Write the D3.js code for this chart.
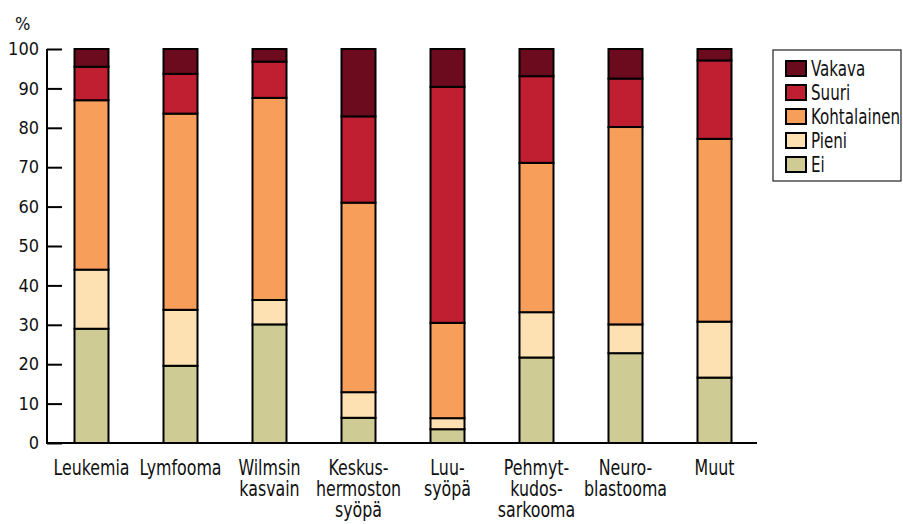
<!DOCTYPE html>
<html>
<head>
<meta charset="utf-8">
<script src="https://cdn.jsdelivr.net/npm/d3@7"></script>
<style>
  html, body { margin: 0; padding: 0; background: #fff; }
  svg { display: block; font-family: "DejaVu Sans Condensed", "DejaVu Sans", sans-serif; font-stretch: condensed; }
</style>
</head>
<body>
<svg id="chart" width="903" height="524"></svg>
<script>
// Cancer types (multi-line labels split on "\n")
const categories = [
  "Leukemia", "Lymfooma", "Wilmsin\nkasvain", "Keskus-\nhermoston\nsyöpä",
  "Luu-\nsyöpä", "Pehmyt-\nkudos-\nsarkooma", "Neuro-\nblastooma", "Muut"
];
// Severity levels, bottom to top
const seriesNames = ["Ei", "Pieni", "Kohtalainen", "Suuri", "Vakava"];
const ei          = [29.0, 19.6, 30.1,  6.4,  3.5, 21.7, 22.8, 16.6];
const pieni       = [15.0, 14.2,  6.2,  6.5,  2.8, 11.5,  7.3, 14.2];
const kohtalainen = [43.0, 49.8, 51.3, 48.1, 24.2, 37.9, 50.1, 46.4];
const suuri       = [ 8.5, 10.1,  9.2, 21.9, 59.9, 22.0, 12.3, 19.9];
const vakava      = [ 4.5,  6.3,  3.2, 17.1,  9.6,  6.9,  7.5,  2.9];
const yTicks = [0, 10, 20, 30, 40, 50, 60, 70, 80, 90, 100];
const colors = ["#cfcb94", "#fde1b2", "#f69e5a", "#c01f31", "#6d0b1e"];

const rows = categories.map((c, i) => ({
  cat: c, Ei: ei[i], Pieni: pieni[i], Kohtalainen: kohtalainen[i], Suuri: suuri[i], Vakava: vakava[i]
}));

const svg = d3.select("#chart");
const plotLeft = 47, plotRight = 759, plotTop = 49, plotBottom = 443;

const x = d3.scaleBand().domain(categories).range([plotLeft, plotRight])
  .paddingInner(0.618).paddingOuter(0.309);
const y = d3.scaleLinear().domain([0, 100]).range([plotBottom, plotTop]);
const color = d3.scaleOrdinal().domain(seriesNames).range(colors);

const stacked = d3.stack().keys(seriesNames)(rows);

// Stacked bars
svg.append("g").selectAll("g").data(stacked).join("g")
  .attr("fill", d => color(d.key))
  .selectAll("rect").data(d => d).join("rect")
  .attr("x", d => x(d.data.cat))
  .attr("width", x.bandwidth())
  .attr("y", d => y(d[1]))
  .attr("height", d => y(d[0]) - y(d[1]))
  .attr("stroke", "#000")
  .attr("stroke-width", 2);

// Y axis with inward ticks
const yAxis = svg.append("g").attr("transform", `translate(${plotLeft},0)`)
  .call(d3.axisRight(y).tickValues(yTicks).tickSize(15).tickFormat(d3.format("d")));
yAxis.select(".domain").remove();
yAxis.attr("font-family", null).attr("font-size", null);
yAxis.selectAll(".tick line").attr("stroke", "#000").attr("stroke-width", 2);
yAxis.selectAll(".tick text")
  .attr("x", -8).attr("text-anchor", "end")
  .attr("font-size", 18).attr("fill", "#111");
svg.append("line").attr("x1", plotLeft).attr("x2", plotLeft).attr("y1", plotTop).attr("y2", plotBottom)
  .attr("stroke", "#000").attr("stroke-width", 2);

// X axis baseline and category labels (narrow lettering)
svg.append("line").attr("x1", plotLeft - 1).attr("x2", plotRight - 2).attr("y1", plotBottom).attr("y2", plotBottom)
  .attr("stroke", "#000").attr("stroke-width", 2);
const xl = svg.append("g").selectAll("g").data(categories).join("g")
  .attr("transform", d => `translate(${x(d) + x.bandwidth() / 2},474.5) scale(0.8,1)`)
  .append("text")
  .attr("text-anchor", "middle")
  .attr("font-size", 22)
  .attr("fill", "#111");
xl.selectAll("tspan").data(d => d.split("\n")).join("tspan")
  .attr("x", 0)
  .attr("dy", (d, i) => i === 0 ? 0 : 21.5)
  .text(d => d);

// Unit label
svg.append("text").attr("x", 15).attr("y", 30).attr("font-size", 18).attr("fill", "#111").text("%");

// Legend (top level first)
const lg = svg.append("g");
lg.append("rect").attr("x", 773).attr("y", 50).attr("width", 128).attr("height", 131)
  .attr("fill", "#fff").attr("stroke", "#222").attr("stroke-width", 1.2);
const items = lg.selectAll("g").data(seriesNames.slice().reverse()).join("g")
  .attr("transform", (d, i) => `translate(786,${61 + i * 24})`);
items.append("rect").attr("width", 20).attr("height", 15)
  .attr("fill", d => color(d)).attr("stroke", "#000").attr("stroke-width", 2);
items.append("text").attr("transform", "translate(25,15) scale(0.8,1)")
  .attr("font-size", 21).attr("fill", "#111").text(d => d);
</script>
</body>
</html>
